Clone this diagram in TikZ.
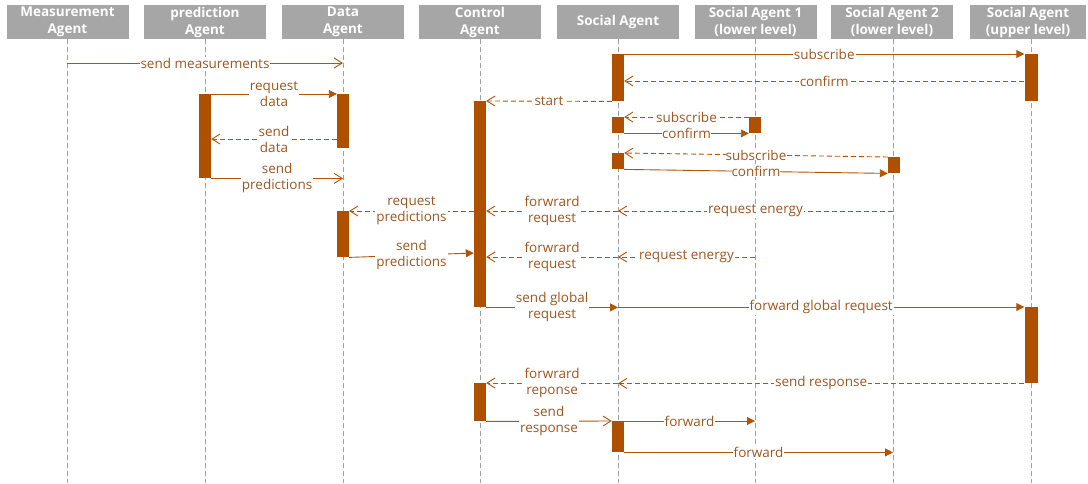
\documentclass[tikz,border=0pt]{standalone}
\usepackage{fontspec}
\setmainfont{Open Sans}
\usetikzlibrary{arrows.meta}

\definecolor{barc}{RGB}{174,80,0}
\definecolor{msgc}{RGB}{176,84,8}
\definecolor{txtc}{RGB}{158,86,32}
\definecolor{headc}{RGB}{166,166,166}
\definecolor{lifec}{RGB}{160,160,160}

\begin{document}
\begin{tikzpicture}[x=1pt,y=-1pt,
  head/.style={fill=headc, minimum width=122pt, minimum height=34pt, inner sep=0pt,
    text=white, font=\fontsize{13.5}{17}\selectfont\bfseries, align=center},
  life/.style={draw=lifec, line width=0.9pt, dash pattern=on 5pt off 3pt},
  bar/.style={fill=barc, minimum width=12pt, inner sep=0pt, anchor=north},
  msg/.style={draw=msgc, line width=0.9pt},
  reply/.style={msg, dash pattern=on 5pt off 3pt},
  openhead/.style={-{Straight Barb[length=8pt,width=10pt,line width=0.9pt]}},
  fullhead/.style={-{Triangle[length=8pt,width=8pt]}},
  lbl/.style={fill=white, inner sep=1pt, text=txtc,
    font=\fontsize{13.5}{16}\selectfont, align=center},
]
\useasboundingbox (0,0) rectangle (1088,483);

% participants
\node[head] (h1) at (67.5,22)  {Measurement\\Agent};
\node[head] (h2) at (205,22)   {prediction\\Agent};
\node[head] (h3) at (343,22)   {Data\\Agent};
\node[head] (h4) at (480,22)   {Control\\Agent};
\node[head] (h5) at (618,22)   {Social Agent};
\node[head] (h6) at (755.5,22) {Social Agent 1\\(lower level)};
\node[head] (h7) at (892,22)   {Social Agent 2\\(lower level)};
\node[head, minimum width=116pt] (h8) at (1028,22) {Social Agent\\(upper level)};

% lifeline tops and common bottom
\coordinate (l1) at (67,39);
\coordinate (l2) at (205,39);
\coordinate (l3) at (343,39);
\coordinate (l4) at (480,39);
\coordinate (l5) at (618,39);
\coordinate (l6) at (755,39);
\coordinate (l7) at (893,39);
\coordinate (l8) at (1031,39);
\coordinate (bot) at (0,483);
\foreach \i in {1,...,8} \draw[life] (l\i) -- (l\i |- bot);

% activation bars
\node[bar, minimum height=84pt] (pb)  at (205,94)  {};
\node[bar, minimum height=54pt] (db1) at (343,94)  {};
\node[bar, minimum height=46pt] (db2) at (343,211) {};
\node[bar, minimum height=206pt] (cb1) at (480,101) {};
\node[bar, minimum height=38pt] (cb3) at (480,383) {};
\node[bar, minimum height=47pt] (sb1) at (618,54)  {};
\node[bar, minimum height=16pt] (sb2) at (618,117) {};
\node[bar, minimum height=16pt] (sb3) at (618,153) {};
\node[bar, minimum height=31pt] (sb4) at (618,421) {};
\node[bar, minimum height=16pt] (s1b) at (755,117) {};
\node[bar, minimum height=16pt] (s2b) at (894,157) {};
\node[bar, minimum height=47pt, minimum width=13pt] (ub1) at (1031,54)  {};
\node[bar, minimum height=76pt, minimum width=13pt] (ub2) at (1031,307) {};

% message rows
\coordinate (rm)  at (0,63);
\coordinate (rc)  at (0,81);
\coordinate (rsd) at (0,139);
\coordinate (rsp) at (0,253);
\coordinate (rfr) at (0,257);

% measurement / prediction / data exchange
\draw[msg, openhead] (l1 |- rm) -- (l3 |- rm)
  node[lbl, midway] {send measurements};
\draw[msg, fullhead] (pb.north east) -- (db1.north west)
  node[lbl, midway] {request\\data};
\draw[reply, openhead] (db1.west |- rsd) -- (pb.east |- rsd)
  node[lbl, midway] {send\\data};
\draw[msg, openhead] (pb.south east) -- (l3 |- pb.south)
  node[lbl, midway] {send\\predictions};

% subscription to the upper level
\draw[msg, fullhead] (sb1.north east) -- (ub1.north west)
  node[lbl, midway] {subscribe};
\draw[reply, openhead] (ub1.west |- rc) -- (sb1.east |- rc)
  node[lbl, midway] {confirm};
\draw[reply, openhead] (sb1.south west) -- (cb1.north east)
  node[lbl, midway] {start};

% subscriptions from the lower level
\draw[reply, openhead] (s1b.north west) -- (sb2.north east)
  node[lbl, midway, inner sep=0pt] {subscribe};
\draw[msg, fullhead] (sb2.south east) -- (s1b.south west)
  node[lbl, midway, inner sep=0pt] {confirm};
\draw[reply, openhead] (s2b.north west) -- (sb3.north east)
  node[lbl, midway, inner sep=0pt] {subscribe};
\draw[msg, fullhead] (sb3.south east) -- (s2b.south west)
  node[lbl, midway, inner sep=0pt] {confirm};

% energy requests
\draw[reply, openhead] (cb1.west |- db2.north) -- (db2.north east)
  node[lbl, midway] {request\\predictions};
\draw[reply, openhead] (l5 |- db2.north) -- (cb1.east |- db2.north)
  node[lbl, midway] {forwrard\\request};
\draw[reply, openhead] (l7 |- db2.north) -- (l5 |- db2.north)
  node[lbl, midway] {request energy};
\draw[msg, fullhead] (db2.south east) -- (cb1.west |- rsp)
  node[lbl, midway] {send\\predictions};
\draw[reply, openhead] (l5 |- rfr) -- (cb1.east |- rfr)
  node[lbl, midway] {forwrard\\request};
\draw[reply, openhead] (l6 |- rfr) -- (l5 |- rfr)
  node[lbl, midway] {request energy};

% global request and response
\draw[msg, fullhead] (cb1.south east) -- (l5 |- cb1.south)
  node[lbl, midway] {send global\\request};
\draw[msg, fullhead] (l5 |- ub2.north) -- (ub2.north west)
  node[lbl, midway] {forward global request};
\draw[reply, openhead] (ub2.south west) -- (l5 |- ub2.south)
  node[lbl, midway] {send response};
\draw[reply, openhead] (l5 |- cb3.north) -- (cb3.north east)
  node[lbl, midway] {forwrard\\reponse};
\draw[msg, openhead] (cb3.south east) -- (sb4.north west)
  node[lbl, midway] {send\\response};
\draw[msg, fullhead] (sb4.north east) -- (l6 |- sb4.north)
  node[lbl, midway] {forward};
\draw[msg, fullhead] (sb4.south east) -- (l7 |- sb4.south)
  node[lbl, midway] {forward};
\end{tikzpicture}
\end{document}
